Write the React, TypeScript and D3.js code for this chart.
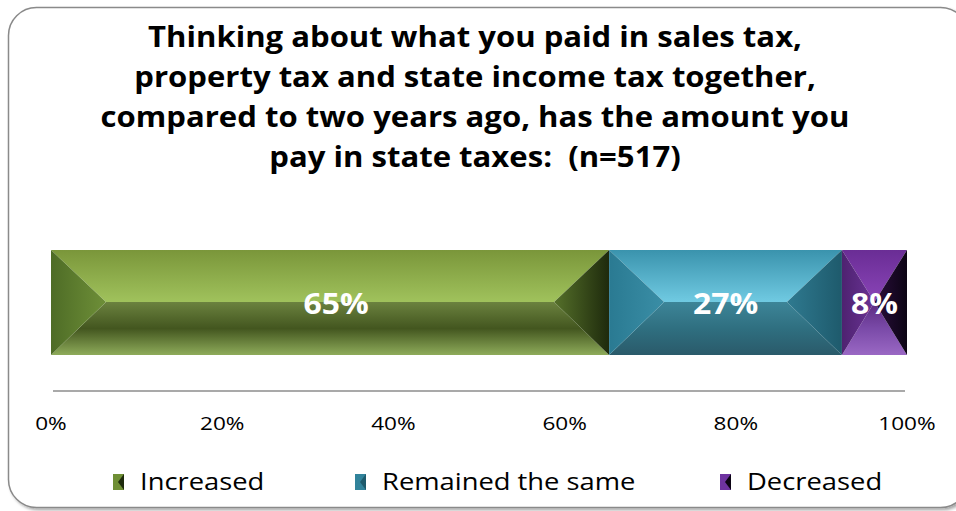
import React from "react";
import * as d3 from "d3";

const titleLines = [
  "Thinking about what you paid in sales tax,",
  "property tax and state income tax together,",
  "compared to two years ago, has the amount you",
  "pay in state taxes:  (n=517)",
];
const categories = ["Increased", "Remained the same", "Decreased"];
const values = [65.2, 27.2, 7.6];
const valueLabels = ["65%", "27%", "8%"];
const tickValues = [0, 20, 40, 60, 80, 100];

const W = 956;
const H = 511;

type Pal = { top: [string, string]; bot: [string, string, string]; left: [string, string]; right: [string, string]; legend: string };
const palettes: Pal[] = [
  { top: ["#7a963a", "#a0c25c"], bot: ["#6b823f", "#43561f", "#8eab5a"], left: ["#4e6c26", "#6e8f38"], right: ["#55702a", "#1e2a0c"], legend: "#6f8f35" },
  { top: ["#3a93ad", "#70cae2"], bot: ["#3d8598", "#2f6f80", "#2a5a6a"], left: ["#2a7a92", "#3a8ea6"], right: ["#2f7a90", "#1e5a6c"], legend: "#31839b" },
  { top: ["#6a2d95", "#8a45b8"], bot: ["#5a2a80", "#7a4aa8", "#9a68c4"], left: ["#4e2270", "#6a3395"], right: ["#2a0e3c", "#0c0414"], legend: "#6e33a0" },
];

const FONT = "'Open Sans', sans-serif";

function SText(props: { x: number; y: number; sx: number; anchor?: string; size: number; bold?: boolean; fill?: string; children: React.ReactNode }) {
  const { x, y, sx, anchor = "middle", size, bold, fill = "#000", children } = props;
  return (
    <text
      transform={`translate(${x},${y}) scale(${sx},1)`}
      textAnchor={anchor}
      fontFamily={FONT}
      fontSize={size}
      fontWeight={bold ? "bold" : "normal"}
      fill={fill}
      style={{ whiteSpace: "pre" }}
    >
      {children}
    </text>
  );
}

export default function App() {
  const x = d3.scaleLinear().domain([0, 100]).range([51, 907]);
  const y0 = 250;
  const y1 = 355;
  const ymid = 302;
  let acc = 0;
  const segs = values.map((v, i) => {
    const s = { x0: x(acc), x1: x(acc + v), v, i };
    acc += v;
    return s;
  });

  return (
    <svg width={W} height={H} style={{ position: "absolute", left: 0, top: 0 }}>
      <defs>
        <filter id="sh" x="-5%" y="-5%" width="110%" height="110%">
          <feDropShadow dx="2" dy="2" stdDeviation="1.5" floodColor="#000" floodOpacity="0.35" />
        </filter>
        {palettes.map((p, i) => (
          <React.Fragment key={i}>
            <linearGradient id={`top${i}`} x1="0" y1="0" x2="0" y2="1">
              <stop offset="0" stopColor={p.top[0]} />
              <stop offset="1" stopColor={p.top[1]} />
            </linearGradient>
            <linearGradient id={`bot${i}`} x1="0" y1="0" x2="0" y2="1">
              <stop offset="0" stopColor={p.bot[0]} />
              <stop offset="0.5" stopColor={p.bot[1]} />
              <stop offset="1" stopColor={p.bot[2]} />
            </linearGradient>
            <linearGradient id={`left${i}`} x1="0" y1="0" x2="1" y2="0">
              <stop offset="0" stopColor={p.left[0]} />
              <stop offset="1" stopColor={p.left[1]} />
            </linearGradient>
            <linearGradient id={`right${i}`} x1="0" y1="0" x2="1" y2="0">
              <stop offset="0" stopColor={p.right[0]} />
              <stop offset="1" stopColor={p.right[1]} />
            </linearGradient>
          </React.Fragment>
        ))}
      </defs>
      <rect x={8.5} y={7.5} width={960} height={500} rx={28} fill="#fff" stroke="#8a8a8a" strokeWidth={1.5} filter="url(#sh)" />
      {titleLines.map((t, i) => (
        <SText key={i} x={475} y={47 + i * 40} sx={1.11} size={28} bold>
          {t}
        </SText>
      ))}
      {segs.map((s) => {
        const w = Math.min(55, (s.x1 - s.x0) / 2);
        const { x0, x1, i } = s;
        const pts = (a: number[][]) => a.map((p) => p.join(",")).join(" ");
        return (
          <g key={i}>
            <polygon points={pts([[x0, y0], [x1, y0], [x1 - w, ymid], [x0 + w, ymid]])} fill={`url(#top${i})`} />
            <polygon points={pts([[x0, y1], [x1, y1], [x1 - w, ymid], [x0 + w, ymid]])} fill={`url(#bot${i})`} />
            <polygon points={pts([[x0, y0], [x0 + w, ymid], [x0, y1]])} fill={`url(#left${i})`} />
            <polygon points={pts([[x1, y0], [x1 - w, ymid], [x1, y1]])} fill={`url(#right${i})`} />
            <SText x={(x0 + x1) / 2 + (i === 0 ? 6 : 0)} y={314} sx={1.1} size={29} bold fill="#fff">
              {valueLabels[i]}
            </SText>
          </g>
        );
      })}
      <line x1={53} x2={905} y1={391} y2={391} stroke="#8c8c8c" strokeWidth={1.5} />
      {tickValues.map((t) => (
        <SText key={t} x={x(t)} y={430} sx={1.22} size={18.5}>
          {`${t}%`}
        </SText>
      ))}
      {categories.map((c, i) => {
        const lx = [113, 355, 720][i];
        return (
          <g key={c}>
            <polygon points={`${lx},474 ${lx + 11},474 ${lx + 11},490 ${lx},490`} fill={palettes[i].legend} />
            <polygon points={`${lx + 11},474 ${lx + 5},482 ${lx + 11},490`} fill={palettes[i].right[1]} />
            <SText x={lx + 27} y={490} sx={1.14} size={24} anchor="start">
              {c}
            </SText>
          </g>
        );
      })}
    </svg>
  );
}
